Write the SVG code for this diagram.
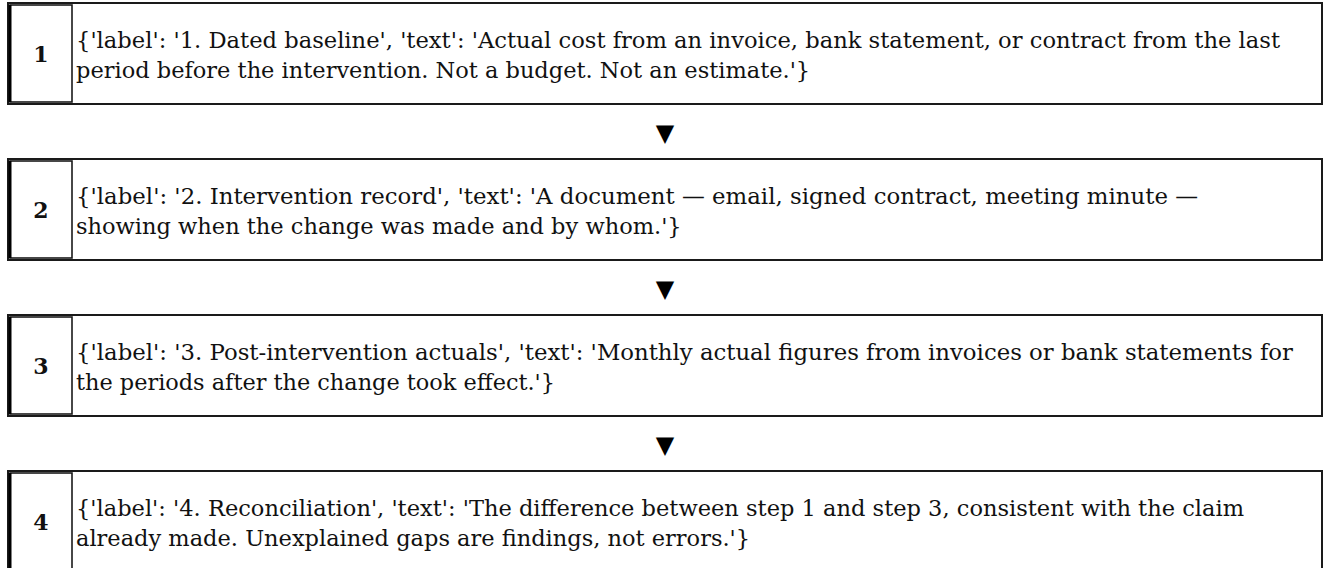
<svg xmlns="http://www.w3.org/2000/svg" width="1324" height="568" viewBox="0 0 1324 568">
<style>
.box{fill:#fff;stroke:#1a1a1a;stroke-width:2}
.cell{fill:#fff;stroke:#1a1a1a;stroke-width:1.6}
.num{font-family:"DejaVu Serif","Liberation Serif",serif;font-weight:bold;font-size:22px;fill:#111;text-anchor:middle}
.txt{font-family:"DejaVu Serif","Liberation Serif",serif;font-size:22.5px;fill:#111}
.arr{font-family:"DejaVu Sans",sans-serif;font-size:24px;fill:#000;text-anchor:middle}
</style>
<rect width="1324" height="568" fill="#fff"/>
<g id="connectors">
<text class="arr" x="665" y="141">▼</text>
<text class="arr" x="665" y="297">▼</text>
<text class="arr" x="665" y="453">▼</text>
</g>
<g id="step1">
<rect class="box" x="8" y="3" width="1314" height="101"/>
<rect class="cell" x="10" y="5" width="62" height="97"/>
<line x1="10" y1="5" x2="10" y2="102" stroke="#000" stroke-width="3"/>
<text class="num" x="41" y="62">1</text>
<text class="txt" x="76" y="48" textLength="1204" lengthAdjust="spacingAndGlyphs">{'label': '1. Dated baseline', 'text': 'Actual cost from an invoice, bank statement, or contract from the last</text>
<text class="txt" x="76" y="78">period before the intervention. Not a budget. Not an estimate.'}</text>
</g>
<g id="step2">
<rect class="box" x="8" y="159" width="1314" height="101"/>
<rect class="cell" x="10" y="161" width="62" height="97"/>
<line x1="10" y1="161" x2="10" y2="258" stroke="#000" stroke-width="3"/>
<text class="num" x="41" y="218">2</text>
<text class="txt" x="76" y="204" textLength="1122" lengthAdjust="spacingAndGlyphs">{'label': '2. Intervention record', 'text': 'A document — email, signed contract, meeting minute —</text>
<text class="txt" x="76" y="234">showing when the change was made and by whom.'}</text>
</g>
<g id="step3">
<rect class="box" x="8" y="315" width="1314" height="101"/>
<rect class="cell" x="10" y="317" width="62" height="97"/>
<line x1="10" y1="317" x2="10" y2="414" stroke="#000" stroke-width="3"/>
<text class="num" x="41" y="374">3</text>
<text class="txt" x="76" y="360" textLength="1217" lengthAdjust="spacingAndGlyphs">{'label': '3. Post-intervention actuals', 'text': 'Monthly actual figures from invoices or bank statements for</text>
<text class="txt" x="76" y="390" textLength="479" lengthAdjust="spacingAndGlyphs">the periods after the change took effect.'}</text>
</g>
<g id="step4">
<rect class="box" x="8" y="471" width="1314" height="101"/>
<rect class="cell" x="10" y="473" width="62" height="97"/>
<line x1="10" y1="473" x2="10" y2="570" stroke="#000" stroke-width="3"/>
<text class="num" x="41" y="530">4</text>
<text class="txt" x="76" y="516" textLength="1168" lengthAdjust="spacingAndGlyphs">{'label': '4. Reconciliation', 'text': 'The difference between step 1 and step 3, consistent with the claim</text>
<text class="txt" x="76" y="546">already made. Unexplained gaps are findings, not errors.'}</text>
</g>
</svg>
